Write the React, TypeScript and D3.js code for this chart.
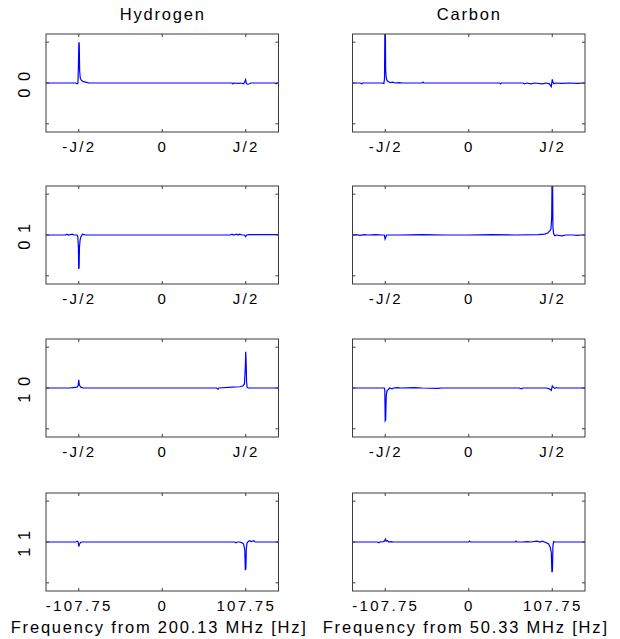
import React from "react";
import * as d3 from "d3";

// ---------- data (frequency in Hz, intensity in arbitrary units) ----------
const columnTitles = ["Hydrogen", "Carbon"];
const rowLabels = ["0 0", "0 1", "1 0", "1 1"];
const xAxisLabels = ["Frequency from 200.13 MHz [Hz]", "Frequency from 50.33 MHz [Hz]"];
const tickValues = [-107.75, 0, 107.75];
const jTickLabels = ["-J/2", "0", "J/2"];
const hzTickLabels = ["-107.75", "0", "107.75"];
const yTickValues = [-1, 0, 1];

const H00: [number, number][] = [
  [-150, 0], [-112, 0], [-110, -0.02], [-108.8, 0], [-108.2, 0.4], [-107.6, 1.0], [-107.1, 0.95],
  [-106.6, 0.3], [-105.8, 0.12], [-104.5, 0.07], [-102.5, 0.04], [-99, 0.02], [-95, 0.005], [-90, 0],
  [90, 0], [91, -0.02], [92, 0], [99, -0.01], [101, 0], [105, -0.02], [106.5, 0.03], [107.5, 0.08],
  [108.5, -0.01], [110, -0.03], [113, -0.02], [114, 0], [145, 0], [147, -0.02], [148, 0], [150, 0],
];
const H01: [number, number][] = [
  [-150, 0], [-125, 0], [-123, 0.02], [-121, 0], [-116, 0.02], [-114, 0], [-110, 0], [-109, -0.04],
  [-108.2, -0.3], [-107.8, -0.83], [-107.3, -0.8], [-106.8, -0.3], [-106, -0.12], [-105, -0.05],
  [-103, 0.02], [-101, 0.01], [-99, 0], [88, 0], [90, 0.02], [92, 0], [96, 0.02], [98, 0], [100, 0.02],
  [103, 0], [106, 0], [107.5, -0.04], [109, 0], [112, 0.01], [150, 0.01],
];
const H10: [number, number][] = [
  [-150, 0], [-120, 0], [-115, 0.01], [-110, 0.02], [-108.5, 0.06], [-107.7, 0.2], [-107, 0.07],
  [-105, 0.02], [-102, 0], [70, 0], [72, -0.03], [73, 0], [90, 0.02], [100, 0.03], [104, 0.05],
  [106, 0.1], [107.2, 0.5], [107.7, 0.89], [108.3, 0.6], [108.8, 0.15], [109.5, 0.02], [111, 0], [150, 0],
];
const H11: [number, number][] = [
  [-150, 0], [-112, 0], [-109.5, 0.02], [-108.5, 0], [-107.7, -0.11], [-107, -0.06], [-105.5, -0.01],
  [-104, 0], [93, 0], [95, -0.02], [97, 0], [100, 0], [103, -0.02], [105, -0.05], [106.5, -0.2],
  [107.2, -0.69], [107.9, -0.65], [108.5, -0.15], [109.5, -0.02], [111, 0.01], [113, 0.03], [115, 0.01],
  [118, 0.03], [120, 0], [150, 0],
];
const C00: [number, number][] = [
  [-150, 0], [-140, 0], [-138, -0.02], [-137, 0], [-112, 0], [-109.5, -0.01], [-108.7, 0.1],
  [-108.2, 1.3], [-107.6, 1.3], [-107.2, 0.3], [-106.5, 0.14], [-105.5, 0.06], [-103.5, 0.03],
  [-101, 0.01], [-98, 0.02], [-95, 0], [-90, 0.01], [-85, 0], [-60, 0], [-59, 0.02], [-58, 0], [40, 0],
  [41, -0.02], [42, 0], [70, 0], [72, -0.02], [75, 0], [80, -0.02], [85, 0], [95, -0.02], [100, 0],
  [104, -0.02], [106.5, -0.09], [107.8, 0.09], [108.5, 0.02], [110, -0.02], [112, 0], [120, -0.01],
  [130, 0], [140, -0.01], [150, 0],
];
const C01: [number, number][] = [
  [-150, 0], [-146, 0.01], [-140, -0.01], [-135, 0.01], [-130, 0], [-120, 0.01], [-112, 0], [-109, 0],
  [-108, -0.1], [-107, -0.05], [-106, 0], [-90, 0], [-60, 0.01], [-30, 0], [0, 0], [30, 0.01], [60, 0],
  [90, 0.01], [98, 0.02], [102, 0.05], [104.5, 0.1], [106, 0.14], [107, 0.4], [107.5, 1.3], [108.2, 1.3],
  [108.6, 0.2], [109.5, 0.03], [111, -0.02], [113, 0], [120, -0.02], [125, 0], [135, 0], [140, -0.01],
  [145, 0], [150, 0],
];
const C10: [number, number][] = [
  [-150, 0], [-112, 0], [-109, 0], [-108.3, -0.05], [-107.8, -0.8], [-107.2, -0.78], [-106.5, -0.2],
  [-105.5, -0.07], [-104, -0.04], [-102, 0], [-99, -0.02], [-97, 0], [-92, 0.01], [-88, 0], [-70, 0.01],
  [-60, 0], [-40, -0.01], [-35, 0], [65, 0], [68, -0.02], [70, 0], [100, 0], [104, -0.02],
  [106.5, -0.06], [107.8, 0.05], [109, 0.02], [111, -0.01], [113, 0.01], [115, 0], [150, 0],
];
const C11: [number, number][] = [
  [-150, 0], [-118, 0], [-116, -0.02], [-115, 0], [-110, 0.01], [-108.5, 0.03], [-107.5, 0.07],
  [-106.5, 0.02], [-105, 0.03], [-103, 0], [-100, 0.01], [-97, 0], [0, 0], [1, 0.02], [2, 0], [60, 0],
  [61, 0.02], [62, 0], [70, 0], [75, 0.01], [80, 0], [88, 0.02], [92, 0], [95, 0.02], [100, -0.02],
  [103, -0.05], [105, -0.12], [106.5, -0.25], [107.3, -0.74], [108, -0.7], [108.6, -0.1], [109.5, 0.01],
  [111, 0], [150, 0],
];

const hydrogenSpectra = [H00, H01, H10, H11];
const carbonSpectra = [C00, C01, C10, C11];

// ---------- layout ----------
const WIDTH = 620;
const HEIGHT = 639;
const colX = [46, 352.5];
const panelW = 232.5;
const rowY = [34, 186, 339, 493];
const panelH = 98;
const xDomain: [number, number] = [-150, 150];
const yDomain: [number, number] = [-1.2, 1.2];
const TICK = 3;
const FONT = "'Liberation Sans', Arial, Helvetica, sans-serif";

function Panel({ col, row, data }: { col: number; row: number; data: [number, number][] }) {
  const x0 = colX[col];
  const y0 = rowY[row];
  const x = d3.scaleLinear().domain(xDomain).range([x0, x0 + panelW]);
  const y = d3.scaleLinear().domain(yDomain).range([y0 + panelH, y0]);
  const line = d3
    .line<[number, number]>()
    .x((d) => x(d[0]))
    .y((d) => y(d[1]));
  const clipId = `clip-${col}-${row}`;
  const labels = row === 3 ? hzTickLabels : jTickLabels;
  const axisColor = "#3c3c3c";
  return (
    <g>
      <defs>
        <clipPath id={clipId}>
          <rect x={x0} y={y0} width={panelW} height={panelH} />
        </clipPath>
      </defs>
      <path d={line(data) || ""} fill="none" stroke="#0000ff" strokeWidth={1.2} clipPath={`url(#${clipId})`} />
      <rect x={x0} y={y0} width={panelW} height={panelH} fill="none" stroke={axisColor} strokeWidth={1} />
      {tickValues.map((t) => (
        <g key={`xt${t}`}>
          <line x1={x(t)} x2={x(t)} y1={y0 + panelH} y2={y0 + panelH - TICK} stroke={axisColor} />
          <line x1={x(t)} x2={x(t)} y1={y0} y2={y0 + TICK} stroke={axisColor} />
        </g>
      ))}
      {yTickValues.map((t) => (
        <g key={`yt${t}`}>
          <line x1={x0} x2={x0 + TICK} y1={y(t)} y2={y(t)} stroke={axisColor} />
          <line x1={x0 + panelW} x2={x0 + panelW - TICK} y1={y(t)} y2={y(t)} stroke={axisColor} />
        </g>
      ))}
      {tickValues.map((t, i) => (
        <text
          key={`xl${t}`}
          x={x(t) + 0.5}
          y={y0 + panelH + 20}
          textAnchor="middle"
          fontFamily={FONT}
          fontSize={15}
          letterSpacing={2.3}
          fill="#000"
        >
          {labels[i]}
        </text>
      ))}
    </g>
  );
}

export default function App() {
  return (
    <svg
      width={WIDTH}
      height={HEIGHT}
      style={{ position: "absolute", left: 0, top: 0, background: "#fff" }}
    >
      <rect x={0} y={0} width={WIDTH} height={HEIGHT} fill="#fff" />
      {columnTitles.map((t, c) => (
        <text
          key={t}
          x={colX[c] + panelW / 2 + 0.5}
          y={19.5}
          textAnchor="middle"
          fontFamily={FONT}
          fontSize={16.5}
          letterSpacing={1.8}
          fill="#000"
        >
          {t}
        </text>
      ))}
      {rowLabels.map((l, r) => (
        <text
          key={l}
          transform={`translate(30,${rowY[r] + panelH / 2 + 1}) rotate(-90)`}
          textAnchor="middle"
          fontFamily={FONT}
          fontSize={16.5}
          letterSpacing={1.5}
          fill="#000"
        >
          {l}
        </text>
      ))}
      {hydrogenSpectra.map((d, r) => (
        <Panel key={`h${r}`} col={0} row={r} data={d} />
      ))}
      {carbonSpectra.map((d, r) => (
        <Panel key={`c${r}`} col={1} row={r} data={d} />
      ))}
      {xAxisLabels.map((t, c) => (
        <text
          key={t}
          x={colX[c] + panelW / 2 - 3}
          y={633}
          textAnchor="middle"
          fontFamily={FONT}
          fontSize={16.5}
          letterSpacing={1.8}
          fill="#000"
        >
          {t}
        </text>
      ))}
    </svg>
  );
}
